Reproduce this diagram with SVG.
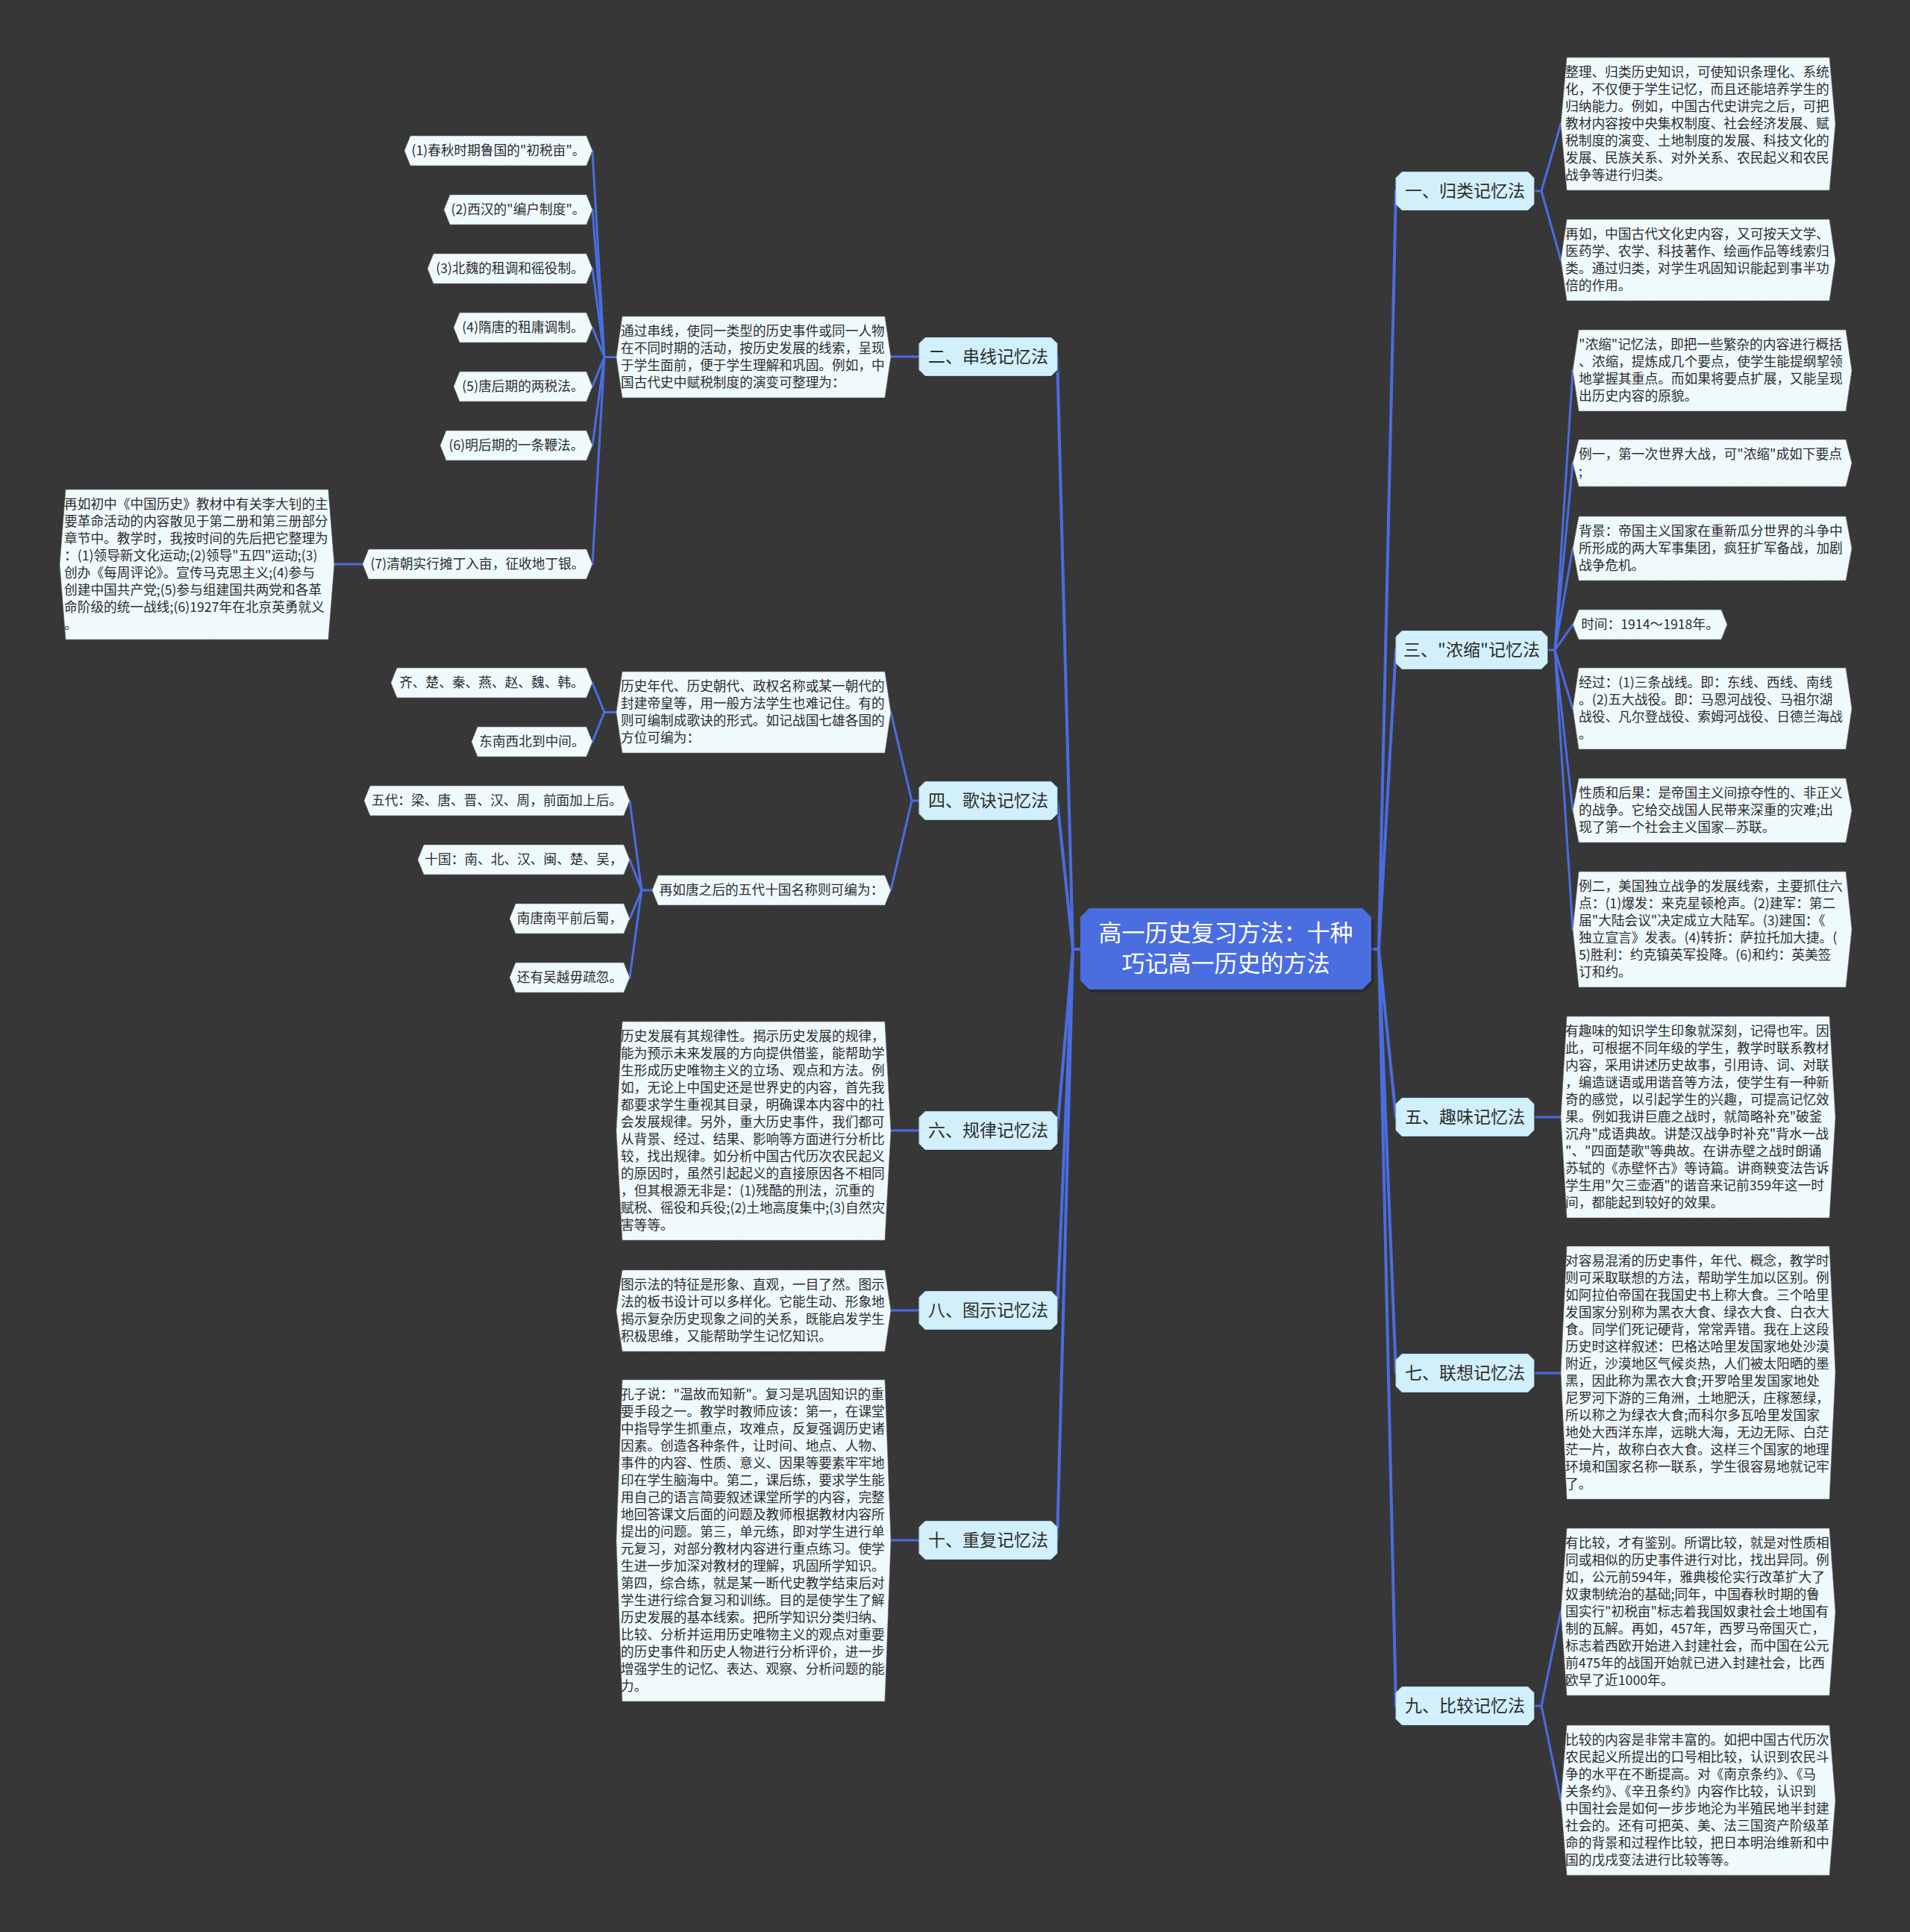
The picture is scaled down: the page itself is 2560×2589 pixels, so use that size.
<svg xmlns="http://www.w3.org/2000/svg" width="2560" height="2589" viewBox="0 0 2560 2589">
<style>
.bg{fill:#383738}
.conn path{fill:none;stroke:#4a6de0;stroke-linecap:round;stroke-linejoin:round}
.main{stroke-width:4}
.sub{stroke-width:3}
.leaf{fill:#effafd;stroke:#6a6a6a;stroke-width:1;stroke-dasharray:2 1.5}
.br{fill:#d2f0fb;stroke:#a9d6ea;stroke-width:1}
.sh{fill:#222;opacity:.55}
.t{font-family:"Noto Sans CJK SC","Noto Sans",sans-serif;font-size:17.7px;fill:#2d2d2d}
.tm{text-anchor:middle}
.bt{font-family:"Noto Sans CJK SC","Noto Sans",sans-serif;font-size:23px;fill:#2d2d2d;text-anchor:middle}
.ct{font-family:"Noto Sans CJK SC","Noto Sans",sans-serif;font-size:31px;fill:#ffffff;text-anchor:middle}
</style>
<rect class="bg" x="0" y="0" width="2560" height="2589"/>

<g class="conn" id="connectors">
<path class="main" d="M1838 1272 H1848 L1871 256 M1848 1272 L1871 871 M1848 1272 L1871 1497 M1848 1272 L1871 1840 M1848 1272 L1871 2286"/>
<path class="main" d="M1448 1272 H1438 L1417 478 M1438 1272 L1417 1073 M1438 1272 L1417 1515 M1438 1272 L1417 1756 M1438 1272 L1417 2064"/>
<path class="sub" d="M2056 256 H2066 L2092 166 M2066 256 L2092 348.5"/>
<path class="sub" d="M2074 871 H2084 L2108 496.5 M2084 871 L2108 620.5 M2084 871 L2108 735 M2084 871 L2108 837 M2084 871 L2108 949.5 M2084 871 L2108 1086 M2084 871 L2108 1245.5"/>
<path class="sub" d="M2056 1497 H2092 M2056 1840 H2092"/>
<path class="sub" d="M2056 2286 H2066 L2092 2160 M2066 2286 L2092 2412.5"/>
<path class="sub" d="M1232 478 H1194"/>
<path class="sub" d="M826 478.5 H810 L794 202 M810 478.5 L794 281 M810 478.5 L794 360 M810 478.5 L794 439 M810 478.5 L794 518 M810 478.5 L794 597 M810 478.5 L794 756"/>
<path class="sub" d="M486 756 H448"/>
<path class="sub" d="M1232 1073 H1222 L1194 954.5 M1222 1073 L1194 1193"/>
<path class="sub" d="M826 954.5 H810 L794 915 M810 954.5 L794 994"/>
<path class="sub" d="M874 1193 H860 L844 1073 M860 1193 L844 1152 M860 1193 L844 1231 M860 1193 L844 1310"/>
<path class="sub" d="M1232 1515 H1194 M1232 1756 H1194 M1232 2064 H1194"/>
</g>

<g id="center">
<path class="sh" d="M1462 1220 H1828 L1841 1233 V1317 L1828 1330 H1462 L1451 1317 V1233 Z"/>
<path fill="#4a6de0" d="M1460 1217 H1826 L1838 1229 V1314 L1826 1326 H1460 L1448 1314 V1229 Z"/>
<text class="ct"><tspan x="1643" y="1261">高一历史复习方法：十种</tspan><tspan x="1643" y="1302">巧记高一历史的方法</tspan></text>
</g>

<!-- right branches -->
<g id="n1">
<path class="sh" d="M1881 232.5 H2050 L2058 240.5 V274.5 L2050 282.5 H1881 L1873 274.5 V240.5 Z"/>
<path class="br" d="M1879 230.5 H2048 L2056 238.5 V273.5 L2048 281.5 H1879 L1871 273.5 V238.5 Z"/>
<text class="bt" x="1963.5" y="264">一、归类记忆法</text>
</g>
<g id="n3">
<path class="sh" d="M1881 847.5 H2068 L2076 855.5 V889.5 L2068 897.5 H1881 L1873 889.5 V855.5 Z"/>
<path class="br" d="M1879 845.5 H2066 L2074 853.5 V888.5 L2066 896.5 H1879 L1871 888.5 V853.5 Z"/>
<text class="bt" x="1972.5" y="879">三、"浓缩"记忆法</text>
</g>
<g id="n5">
<path class="sh" d="M1881 1473.5 H2050 L2058 1481.5 V1515.5 L2050 1523.5 H1881 L1873 1515.5 V1481.5 Z"/>
<path class="br" d="M1879 1471.5 H2048 L2056 1479.5 V1514.5 L2048 1522.5 H1879 L1871 1514.5 V1479.5 Z"/>
<text class="bt" x="1963.5" y="1505">五、趣味记忆法</text>
</g>
<g id="n7">
<path class="sh" d="M1881 1816.5 H2050 L2058 1824.5 V1858.5 L2050 1866.5 H1881 L1873 1858.5 V1824.5 Z"/>
<path class="br" d="M1879 1814.5 H2048 L2056 1822.5 V1857.5 L2048 1865.5 H1879 L1871 1857.5 V1822.5 Z"/>
<text class="bt" x="1963.5" y="1848">七、联想记忆法</text>
</g>
<g id="n9">
<path class="sh" d="M1881 2262.5 H2050 L2058 2270.5 V2304.5 L2050 2312.5 H1881 L1873 2304.5 V2270.5 Z"/>
<path class="br" d="M1879 2260.5 H2048 L2056 2268.5 V2303.5 L2048 2311.5 H1879 L1871 2303.5 V2268.5 Z"/>
<text class="bt" x="1963.5" y="2294">九、比较记忆法</text>
</g>

<!-- left branches -->
<g id="n2">
<path class="sh" d="M1242 454.5 H1411 L1419 462.5 V496.5 L1411 504.5 H1242 L1234 496.5 V462.5 Z"/>
<path class="br" d="M1240 452.5 H1409 L1417 460.5 V495.5 L1409 503.5 H1240 L1232 495.5 V460.5 Z"/>
<text class="bt" x="1324.5" y="486">二、串线记忆法</text>
</g>
<g id="n4">
<path class="sh" d="M1242 1049.5 H1411 L1419 1057.5 V1091.5 L1411 1099.5 H1242 L1234 1091.5 V1057.5 Z"/>
<path class="br" d="M1240 1047.5 H1409 L1417 1055.5 V1090.5 L1409 1098.5 H1240 L1232 1090.5 V1055.5 Z"/>
<text class="bt" x="1324.5" y="1081">四、歌诀记忆法</text>
</g>
<g id="n6">
<path class="sh" d="M1242 1491.5 H1411 L1419 1499.5 V1533.5 L1411 1541.5 H1242 L1234 1533.5 V1499.5 Z"/>
<path class="br" d="M1240 1489.5 H1409 L1417 1497.5 V1532.5 L1409 1540.5 H1240 L1232 1532.5 V1497.5 Z"/>
<text class="bt" x="1324.5" y="1523">六、规律记忆法</text>
</g>
<g id="n8">
<path class="sh" d="M1242 1732.5 H1411 L1419 1740.5 V1774.5 L1411 1782.5 H1242 L1234 1774.5 V1740.5 Z"/>
<path class="br" d="M1240 1730.5 H1409 L1417 1738.5 V1773.5 L1409 1781.5 H1240 L1232 1773.5 V1738.5 Z"/>
<text class="bt" x="1324.5" y="1764">八、图示记忆法</text>
</g>
<g id="n10">
<path class="sh" d="M1242 2040.5 H1411 L1419 2048.5 V2082.5 L1411 2090.5 H1242 L1234 2082.5 V2048.5 Z"/>
<path class="br" d="M1240 2038.5 H1409 L1417 2046.5 V2081.5 L1409 2089.5 H1240 L1232 2081.5 V2046.5 Z"/>
<text class="bt" x="1324.5" y="2072">十、重复记忆法</text>
</g>

<!-- right leaves -->
<g id="r1a">
<path class="leaf" d="M2100 77 H2452 L2460 166 L2452 255 H2100 L2092 166 Z"/>
<text class="t"><tspan x="2098" y="103">整理、归类历史知识，可使知识条理化、系统</tspan><tspan x="2098" y="126">化，不仅便于学生记忆，而且还能培养学生的</tspan><tspan x="2098" y="149">归纳能力。例如，中国古代史讲完之后，可把</tspan><tspan x="2098" y="172">教材内容按中央集权制度、社会经济发展、赋</tspan><tspan x="2098" y="195">税制度的演变、土地制度的发展、科技文化的</tspan><tspan x="2098" y="218">发展、民族关系、对外关系、农民起义和农民</tspan><tspan x="2098" y="241">战争等进行归类。</tspan></text>
</g>
<g id="r1b">
<path class="leaf" d="M2100 294 H2452 L2460 348.5 L2452 403 H2100 L2092 348.5 Z"/>
<text class="t"><tspan x="2098" y="320">再如，中国古代文化史内容，又可按天文学、</tspan><tspan x="2098" y="343">医药学、农学、科技著作、绘画作品等线索归</tspan><tspan x="2098" y="366">类。通过归类，对学生巩固知识能起到事半功</tspan><tspan x="2098" y="389">倍的作用。</tspan></text>
</g>
<g id="r3a">
<path class="leaf" d="M2116 442 H2474 L2482 496.5 L2474 551 H2116 L2108 496.5 Z"/>
<text class="t"><tspan x="2116" y="468">"浓缩"记忆法，即把一些繁杂的内容进行概括</tspan><tspan x="2116" y="491">、浓缩，提炼成几个要点，使学生能提纲挈领</tspan><tspan x="2116" y="514">地掌握其重点。而如果将要点扩展，又能呈现</tspan><tspan x="2116" y="537">出历史内容的原貌。</tspan></text>
</g>
<g id="r3b">
<path class="leaf" d="M2116 589 H2474 L2482 620.5 L2474 652 H2116 L2108 620.5 Z"/>
<text class="t"><tspan x="2116" y="615">例一，第一次世界大战，可"浓缩"成如下要点</tspan><tspan x="2116" y="638">;</tspan></text>
</g>
<g id="r3c">
<path class="leaf" d="M2116 692 H2474 L2482 735 L2474 778 H2116 L2108 735 Z"/>
<text class="t"><tspan x="2116" y="718">背景：帝国主义国家在重新瓜分世界的斗争中</tspan><tspan x="2116" y="741">所形成的两大军事集团，疯狂扩军备战，加剧</tspan><tspan x="2116" y="764">战争危机。</tspan></text>
</g>
<g id="r3d">
<path class="leaf" d="M2116 817 H2307 L2315 837 L2307 857 H2116 L2108 837 Z"/>
<text class="t tm" x="2211.5" y="843">时间：1914～1918年。</text>
</g>
<g id="r3e">
<path class="leaf" d="M2116 895 H2474 L2482 949.5 L2474 1004 H2116 L2108 949.5 Z"/>
<text class="t"><tspan x="2116" y="921">经过：(1)三条战线。即：东线、西线、南线</tspan><tspan x="2116" y="944">。(2)五大战役。即：马恩河战役、马祖尔湖</tspan><tspan x="2116" y="967">战役、凡尔登战役、索姆河战役、日德兰海战</tspan><tspan x="2116" y="990">。</tspan></text>
</g>
<g id="r3f">
<path class="leaf" d="M2116 1043 H2474 L2482 1086 L2474 1129 H2116 L2108 1086 Z"/>
<text class="t"><tspan x="2116" y="1069">性质和后果：是帝国主义间掠夺性的、非正义</tspan><tspan x="2116" y="1092">的战争。它给交战国人民带来深重的灾难;出</tspan><tspan x="2116" y="1115">现了第一个社会主义国家—苏联。</tspan></text>
</g>
<g id="r3g">
<path class="leaf" d="M2116 1168 H2474 L2482 1245.5 L2474 1323 H2116 L2108 1245.5 Z"/>
<text class="t"><tspan x="2116" y="1194">例二，美国独立战争的发展线索，主要抓住六</tspan><tspan x="2116" y="1217">点：(1)爆发：来克星顿枪声。(2)建军：第二</tspan><tspan x="2116" y="1240">届"大陆会议"决定成立大陆军。(3)建国：《</tspan><tspan x="2116" y="1263">独立宣言》发表。(4)转折：萨拉托加大捷。(</tspan><tspan x="2116" y="1286">5)胜利：约克镇英军投降。(6)和约：英美签</tspan><tspan x="2116" y="1309">订和约。</tspan></text>
</g>
<g id="r5">
<path class="leaf" d="M2100 1362 H2452 L2460 1497 L2452 1632 H2100 L2092 1497 Z"/>
<text class="t"><tspan x="2098" y="1388">有趣味的知识学生印象就深刻，记得也牢。因</tspan><tspan x="2098" y="1411">此，可根据不同年级的学生，教学时联系教材</tspan><tspan x="2098" y="1434">内容，采用讲述历史故事，引用诗、词、对联</tspan><tspan x="2098" y="1457">，编造谜语或用谐音等方法，使学生有一种新</tspan><tspan x="2098" y="1480">奇的感觉，以引起学生的兴趣，可提高记忆效</tspan><tspan x="2098" y="1503">果。例如我讲巨鹿之战时，就简略补充"破釜</tspan><tspan x="2098" y="1526">沉舟"成语典故。讲楚汉战争时补充"背水一战</tspan><tspan x="2098" y="1549">"、"四面楚歌"等典故。在讲赤壁之战时朗诵</tspan><tspan x="2098" y="1572">苏轼的《赤壁怀古》等诗篇。讲商鞅变法告诉</tspan><tspan x="2098" y="1595">学生用"欠三壶酒"的谐音来记前359年这一时</tspan><tspan x="2098" y="1618">间，都能起到较好的效果。</tspan></text>
</g>
<g id="r7">
<path class="leaf" d="M2100 1670 H2452 L2460 1839.5 L2452 2009 H2100 L2092 1839.5 Z"/>
<text class="t"><tspan x="2098" y="1696">对容易混淆的历史事件，年代、概念，教学时</tspan><tspan x="2098" y="1719">则可采取联想的方法，帮助学生加以区别。例</tspan><tspan x="2098" y="1742">如阿拉伯帝国在我国史书上称大食。三个哈里</tspan><tspan x="2098" y="1765">发国家分别称为黑衣大食、绿衣大食、白衣大</tspan><tspan x="2098" y="1788">食。同学们死记硬背，常常弄错。我在上这段</tspan><tspan x="2098" y="1811">历史时这样叙述：巴格达哈里发国家地处沙漠</tspan><tspan x="2098" y="1834">附近，沙漠地区气候炎热，人们被太阳晒的墨</tspan><tspan x="2098" y="1857">黑，因此称为黑衣大食;开罗哈里发国家地处</tspan><tspan x="2098" y="1880">尼罗河下游的三角洲，土地肥沃，庄稼葱绿，</tspan><tspan x="2098" y="1903">所以称之为绿衣大食;而科尔多瓦哈里发国家</tspan><tspan x="2098" y="1926">地处大西洋东岸，远眺大海，无边无际、白茫</tspan><tspan x="2098" y="1949">茫一片，故称白衣大食。这样三个国家的地理</tspan><tspan x="2098" y="1972">环境和国家名称一联系，学生很容易地就记牢</tspan><tspan x="2098" y="1995">了。</tspan></text>
</g>
<g id="r9a">
<path class="leaf" d="M2100 2048 H2452 L2460 2160 L2452 2272 H2100 L2092 2160 Z"/>
<text class="t"><tspan x="2098" y="2074">有比较，才有鉴别。所谓比较，就是对性质相</tspan><tspan x="2098" y="2097">同或相似的历史事件进行对比，找出异同。例</tspan><tspan x="2098" y="2120">如，公元前594年，雅典梭伦实行改革扩大了</tspan><tspan x="2098" y="2143">奴隶制统治的基础;同年，中国春秋时期的鲁</tspan><tspan x="2098" y="2166">国实行"初税亩"标志着我国奴隶社会土地国有</tspan><tspan x="2098" y="2189">制的瓦解。再如，457年，西罗马帝国灭亡，</tspan><tspan x="2098" y="2212">标志着西欧开始进入封建社会，而中国在公元</tspan><tspan x="2098" y="2235">前475年的战国开始就已进入封建社会，比西</tspan><tspan x="2098" y="2258">欧早了近1000年。</tspan></text>
</g>
<g id="r9b">
<path class="leaf" d="M2100 2312 H2452 L2460 2412.5 L2452 2513 H2100 L2092 2412.5 Z"/>
<text class="t"><tspan x="2098" y="2338">比较的内容是非常丰富的。如把中国古代历次</tspan><tspan x="2098" y="2361">农民起义所提出的口号相比较，认识到农民斗</tspan><tspan x="2098" y="2384">争的水平在不断提高。对《南京条约》、《马</tspan><tspan x="2098" y="2407">关条约》、《辛丑条约》内容作比较，认识到</tspan><tspan x="2098" y="2430">中国社会是如何一步步地沦为半殖民地半封建</tspan><tspan x="2098" y="2453">社会的。还有可把英、美、法三国资产阶级革</tspan><tspan x="2098" y="2476">命的背景和过程作比较，把日本明治维新和中</tspan><tspan x="2098" y="2499">国的戊戌变法进行比较等等。</tspan></text>
</g>

<!-- left leaves -->
<g id="l2">
<path class="leaf" d="M834 424 H1186 L1194 478.5 L1186 533 H834 L826 478.5 Z"/>
<text class="t"><tspan x="832" y="450">通过串线，使同一类型的历史事件或同一人物</tspan><tspan x="832" y="473">在不同时期的活动，按历史发展的线索，呈现</tspan><tspan x="832" y="496">于学生面前，便于学生理解和巩固。例如，中</tspan><tspan x="832" y="519">国古代史中赋税制度的演变可整理为：</tspan></text>
</g>
<g id="l2i1">
<path class="leaf" d="M550 182 H786 L794 202 L786 222 H550 L542 202 Z"/>
<text class="t tm" x="668" y="208">(1)春秋时期鲁国的"初税亩"。</text>
</g>
<g id="l2i2">
<path class="leaf" d="M603 261 H786 L794 281 L786 301 H603 L595 281 Z"/>
<text class="t tm" x="694.5" y="287">(2)西汉的"编户制度"。</text>
</g>
<g id="l2i3">
<path class="leaf" d="M581 340 H786 L794 360 L786 380 H581 L573 360 Z"/>
<text class="t tm" x="683.5" y="366">(3)北魏的租调和徭役制。</text>
</g>
<g id="l2i4">
<path class="leaf" d="M616 419 H786 L794 439 L786 459 H616 L608 439 Z"/>
<text class="t tm" x="701" y="445">(4)隋唐的租庸调制。</text>
</g>
<g id="l2i5">
<path class="leaf" d="M616 498 H786 L794 518 L786 538 H616 L608 518 Z"/>
<text class="t tm" x="701" y="524">(5)唐后期的两税法。</text>
</g>
<g id="l2i6">
<path class="leaf" d="M598 577 H786 L794 597 L786 617 H598 L590 597 Z"/>
<text class="t tm" x="692" y="603">(6)明后期的一条鞭法。</text>
</g>
<g id="l2i7">
<path class="leaf" d="M494 736 H786 L794 756 L786 776 H494 L486 756 Z"/>
<text class="t tm" x="640" y="762">(7)清朝实行摊丁入亩，征收地丁银。</text>
</g>
<g id="l2i7a">
<path class="leaf" d="M88 656 H440 L448 756.5 L440 857 H88 L80 756.5 Z"/>
<text class="t"><tspan x="86" y="682">再如初中《中国历史》教材中有关李大钊的主</tspan><tspan x="86" y="705">要革命活动的内容散见于第二册和第三册部分</tspan><tspan x="86" y="728">章节中。教学时，我按时间的先后把它整理为</tspan><tspan x="86" y="751">：(1)领导新文化运动;(2)领导"五四"运动;(3)</tspan><tspan x="86" y="774">创办《每周评论》。宣传马克思主义;(4)参与</tspan><tspan x="86" y="797">创建中国共产党;(5)参与组建国共两党和各革</tspan><tspan x="86" y="820">命阶级的统一战线;(6)1927年在北京英勇就义</tspan><tspan x="86" y="843">。</tspan></text>
</g>
<g id="l4a">
<path class="leaf" d="M834 900 H1186 L1194 954.5 L1186 1009 H834 L826 954.5 Z"/>
<text class="t"><tspan x="832" y="926">历史年代、历史朝代、政权名称或某一朝代的</tspan><tspan x="832" y="949">封建帝皇等，用一般方法学生也难记住。有的</tspan><tspan x="832" y="972">则可编制成歌诀的形式。如记战国七雄各国的</tspan><tspan x="832" y="995">方位可编为：</tspan></text>
</g>
<g id="l4a1">
<path class="leaf" d="M532 895 H786 L794 915 L786 935 H532 L524 915 Z"/>
<text class="t tm" x="659" y="921">齐、楚、秦、燕、赵、魏、韩。</text>
</g>
<g id="l4a2">
<path class="leaf" d="M640 974 H786 L794 994 L786 1014 H640 L632 994 Z"/>
<text class="t tm" x="713" y="1000">东南西北到中间。</text>
</g>
<g id="l4b">
<path class="leaf" d="M882 1173 H1186 L1194 1193 L1186 1213 H882 L874 1193 Z"/>
<text class="t tm" x="1034" y="1199">再如唐之后的五代十国名称则可编为：</text>
</g>
<g id="l4b1">
<path class="leaf" d="M496 1053 H836 L844 1073 L836 1093 H496 L488 1073 Z"/>
<text class="t tm" x="666" y="1079">五代：梁、唐、晋、汉、周，前面加上后。</text>
</g>
<g id="l4b2">
<path class="leaf" d="M568 1132 H836 L844 1152 L836 1172 H568 L560 1152 Z"/>
<text class="t tm" x="702" y="1158">十国：南、北、汉、闽、楚、吴，</text>
</g>
<g id="l4b3">
<path class="leaf" d="M691 1211 H836 L844 1231 L836 1251 H691 L683 1231 Z"/>
<text class="t tm" x="763.5" y="1237">南唐南平前后蜀，</text>
</g>
<g id="l4b4">
<path class="leaf" d="M691 1290 H836 L844 1310 L836 1330 H691 L683 1310 Z"/>
<text class="t tm" x="763.5" y="1316">还有吴越毋疏忽。</text>
</g>
<g id="l6">
<path class="leaf" d="M834 1369 H1186 L1194 1515.5 L1186 1662 H834 L826 1515.5 Z"/>
<text class="t"><tspan x="832" y="1395">历史发展有其规律性。揭示历史发展的规律，</tspan><tspan x="832" y="1418">能为预示未来发展的方向提供借鉴，能帮助学</tspan><tspan x="832" y="1441">生形成历史唯物主义的立场、观点和方法。例</tspan><tspan x="832" y="1464">如，无论上中国史还是世界史的内容，首先我</tspan><tspan x="832" y="1487">都要求学生重视其目录，明确课本内容中的社</tspan><tspan x="832" y="1510">会发展规律。另外，重大历史事件，我们都可</tspan><tspan x="832" y="1533">从背景、经过、结果、影响等方面进行分析比</tspan><tspan x="832" y="1556">较，找出规律。如分析中国古代历次农民起义</tspan><tspan x="832" y="1579">的原因时，虽然引起起义的直接原因各不相同</tspan><tspan x="832" y="1602">，但其根源无非是：(1)残酷的刑法，沉重的</tspan><tspan x="832" y="1625">赋税、徭役和兵役;(2)土地高度集中;(3)自然灾</tspan><tspan x="832" y="1648">害等等。</tspan></text>
</g>
<g id="l8">
<path class="leaf" d="M834 1702 H1186 L1194 1756.5 L1186 1811 H834 L826 1756.5 Z"/>
<text class="t"><tspan x="832" y="1728">图示法的特征是形象、直观，一目了然。图示</tspan><tspan x="832" y="1751">法的板书设计可以多样化。它能生动、形象地</tspan><tspan x="832" y="1774">揭示复杂历史现象之间的关系，既能启发学生</tspan><tspan x="832" y="1797">积极思维，又能帮助学生记忆知识。</tspan></text>
</g>
<g id="l10">
<path class="leaf" d="M834 1849 H1186 L1194 2064.5 L1186 2280 H834 L826 2064.5 Z"/>
<text class="t"><tspan x="832" y="1875">孔子说："温故而知新"。复习是巩固知识的重</tspan><tspan x="832" y="1898">要手段之一。教学时教师应该：第一，在课堂</tspan><tspan x="832" y="1921">中指导学生抓重点，攻难点，反复强调历史诸</tspan><tspan x="832" y="1944">因素。创造各种条件，让时间、地点、人物、</tspan><tspan x="832" y="1967">事件的内容、性质、意义、因果等要素牢牢地</tspan><tspan x="832" y="1990">印在学生脑海中。第二，课后练，要求学生能</tspan><tspan x="832" y="2013">用自己的语言简要叙述课堂所学的内容，完整</tspan><tspan x="832" y="2036">地回答课文后面的问题及教师根据教材内容所</tspan><tspan x="832" y="2059">提出的问题。第三，单元练，即对学生进行单</tspan><tspan x="832" y="2082">元复习，对部分教材内容进行重点练习。使学</tspan><tspan x="832" y="2105">生进一步加深对教材的理解，巩固所学知识。</tspan><tspan x="832" y="2128">第四，综合练，就是某一断代史教学结束后对</tspan><tspan x="832" y="2151">学生进行综合复习和训练。目的是使学生了解</tspan><tspan x="832" y="2174">历史发展的基本线索。把所学知识分类归纳、</tspan><tspan x="832" y="2197">比较、分析并运用历史唯物主义的观点对重要</tspan><tspan x="832" y="2220">的历史事件和历史人物进行分析评价，进一步</tspan><tspan x="832" y="2243">增强学生的记忆、表达、观察、分析问题的能</tspan><tspan x="832" y="2266">力。</tspan></text>
</g>
</svg>
